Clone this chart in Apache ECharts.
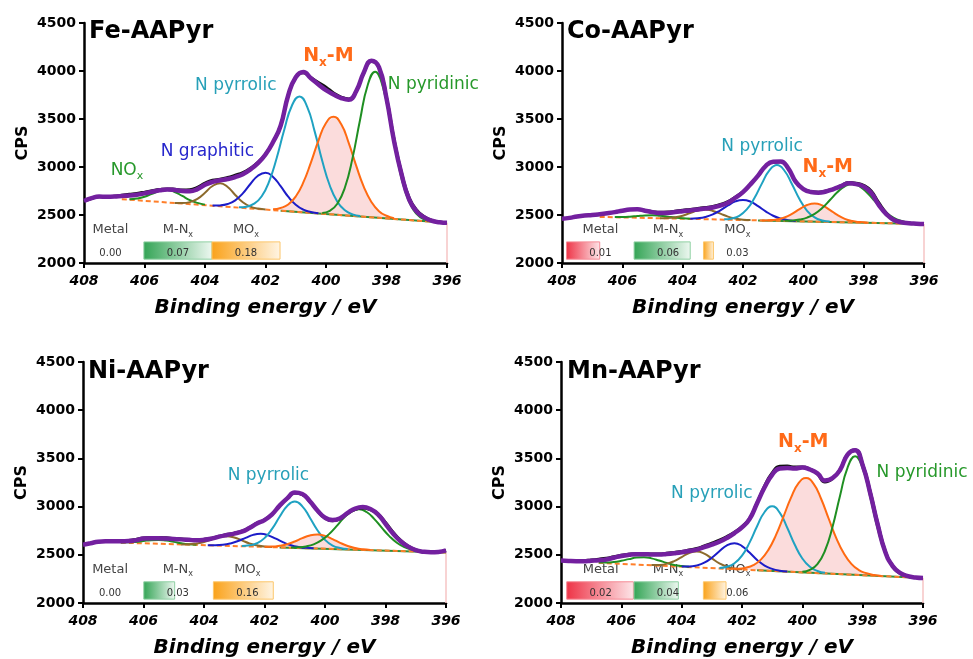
<!DOCTYPE html>
<html><head><meta charset="utf-8">
<script src="https://cdn.jsdelivr.net/npm/echarts@6/dist/echarts.min.js"></script>
<style>html,body{margin:0;padding:0;background:#fff}#c{width:973px;height:659px}</style>
</head><body><div id="c"></div>
<script>
// ---------- shared energy grids (eV) ----------
const energy = [408,407.75,407.5,407.25,407,406.75,406.5,406.25,406,405.75,405.5,405.25,405,404.75,404.5,404.25,404,403.75,403.5,403.25,403,402.75,402.5,402.25,402,401.75,401.5,401.25,401,400.75,400.5,400.25,400,399.75,399.5,399.25,399,398.75,398.5,398.25,398,397.75,397.5,397.25,397,396.75,396.5,396.25,396];
const energyHalf = [407.875,407.625,407.375,407.125,406.875,406.625,406.375,406.125,405.875,405.625,405.375,405.125,404.875,404.625,404.375,404.125,403.875,403.625,403.375,403.125,402.875,402.625,402.375,402.125,401.875,401.625,401.375,401.125,400.875,400.625,400.375,400.125,399.875,399.625,399.375,399.125,398.875,398.625,398.375,398.125,397.875,397.625,397.375,397.125,396.875,396.625,396.375,396.125];
const baseEnergy = [406.75, 401.5, 396];
const xTicks = [408, 406, 404, 402, 400, 398, 396];
const yTicks = [2000, 2500, 3000, 3500, 4000, 4500];
const cellNames = ['{a|Metal}', '{a|M-N}{s|x}', '{a|MO}{s|x}'];

// ---------- Fe-AAPyr ----------
const feEnvelope = [2646,2675,2692,2690,2692,2698,2703,2712,2725,2742,2757,2765,2760,2750,2748,2770,2815,2845,2862,2875,2895,2925,2975,3040,3130,3260,3430,3745,3935,3990,3925,3860,3800,3755,3718,3700,3790,3985,4108,4040,3715,3270,2920,2660,2535,2475,2440,2425,2418];
const feRaw = [2646,2672,2690,2688,2695,2705,2715,2725,2738,2752,2765,2772,2768,2760,2762,2788,2832,2862,2872,2890,2915,2942,2988,3048,3135,3262,3432,3745,3932,3982,3932,3880,3832,3772,3728,3708,3792,3982,4100,4040,3725,3285,2935,2680,2550,2482,2444,2426,2418];
const feBase = [2665, 2545, 2418];
const feNOxFrom = 406.5;        const feNOx = [2665,2672,2690,2721,2751,2761,2740,2698,2655,2626,2608];
const feOtherFrom = 405.0;      const feOther = [2626,2624,2634,2668,2732,2802,2831,2791,2709,2633,2588,2567,2557];
const feGraphiticFrom = 403.75; const feGraphitic = [2598,2600,2614,2653,2725,2823,2909,2941,2897,2800,2691,2607,2556,2531,2518];
const fePyrrolicFrom = 402.875; const fePyrrolic = [2581,2587,2618,2696,2853,3099,3394,3641,3735,3629,3371,3065,2807,2638,2549,2507,2489];
const feNxMFrom = 401.75;       const feNxM = [2559,2573,2609,2693,2839,3046,3275,3458,3524,3447,3252,3011,2793,2636,2540,2492,2467];
const fePyridinicFrom = 400.125; const fePyridinic = [2522,2543,2617,2786,3090,3490,3849,3993,3838,3467,3055,2740,2560,2474,2441];
const feCellLeft = [408.25, 406.02, 403.77];
const feCellFill = [0, 2.25, 2.25];
const feRatio = ['0.00', '0.07', '0.18'];
const feNoteText = ['{a|N pyrrolic}', '{a|N graphitic}', '{a|NO}{s|x}', '{a|N}{s|x}{a|-M}', '{a|N pyridinic}'];
const feNoteE = [402.98, 403.92, 406.58, 399.92, 396.45];
const feNoteCps = [3833, 3146, 2950, 4140, 3844];
const feNoteKind = ['pyrrolic', 'graphitic', 'pyridinic', 'nxm', 'pyridinic'];

// ---------- Co-AAPyr ----------
const coEnvelope = [2462,2470,2485,2495,2500,2508,2518,2530,2545,2557,2560,2545,2530,2520,2522,2532,2540,2548,2558,2568,2578,2598,2628,2680,2738,2820,2910,3010,3055,3058,2985,2845,2770,2740,2733,2745,2770,2800,2830,2822,2795,2730,2605,2510,2448,2425,2415,2410,2406];
const coRaw = [2462,2470,2485,2495,2500,2508,2518,2530,2545,2557,2560,2548,2535,2528,2530,2540,2550,2558,2568,2578,2590,2610,2640,2688,2742,2820,2910,3008,3052,3055,2985,2850,2772,2745,2738,2750,2772,2805,2838,2832,2810,2750,2628,2522,2452,2426,2415,2410,2406];
const coBase = [2480, 2444, 2406];
const coNOxFrom = 406.25;       const coNOx = [2478,2479,2483,2490,2496,2498,2492,2483,2473,2465,2460];
const coOtherFrom = 404.75;     const coOther = [2467,2469,2477,2493,2521,2546,2556,2542,2514,2483,2463,2451,2447];
const coGraphiticFrom = 403.75; const coGraphitic = [2462,2467,2480,2506,2549,2599,2642,2657,2639,2592,2538,2492,2463,2446,2438];
const coPyrrolicFrom = 402.625; const coPyrrolic = [2455,2464,2492,2558,2674,2827,2964,3020,2961,2820,2664,2544,2475,2443,2431];
const coNxMFrom = 401.375;      const coNxM = [2444,2446,2454,2474,2511,2561,2604,2621,2600,2554,2501,2460,2437,2426,2420];
const coPyridinicFrom = 400.625; const coPyridinic = [2440,2443,2453,2473,2512,2573,2653,2736,2799,2822,2796,2729,2642,2560,2495,2452,2428,2416,2409];
const coCellLeft = [407.85, 405.61, 403.31];
const coCellFill = [1.1, 1.86, 0.33];
const coRatio = ['0.01', '0.06', '0.03'];
const coNoteText = ['{a|N pyrrolic}', '{a|N}{s|x}{a|-M}'];
const coNoteE = [401.37, 399.19];
const coNoteCps = [3198, 2980];
const coNoteKind = ['pyrrolic', 'nxm'];

// ---------- Ni-AAPyr ----------
const niEnvelope = [2605,2620,2636,2640,2640,2640,2642,2652,2668,2672,2672,2668,2664,2660,2655,2650,2655,2668,2688,2705,2720,2740,2778,2825,2860,2920,3010,3085,3145,3130,3055,2960,2885,2860,2880,2935,2980,2995,2975,2920,2820,2720,2640,2585,2548,2532,2526,2530,2546];
const niRaw = [2605,2620,2636,2640,2640,2642,2648,2660,2675,2680,2680,2676,2670,2665,2660,2655,2660,2672,2692,2710,2725,2745,2782,2828,2862,2922,3008,3082,3140,3125,3050,2958,2878,2852,2872,2930,2972,2985,2968,2925,2835,2735,2650,2590,2550,2532,2526,2530,2546];
const niBase = [2626, 2577, 2525];
const niNOxFrom = 406.75;       const niNOx = [2628,2629,2634,2643,2652,2654,2647,2634,2620,2610,2605];
const niOtherFrom = 404.75;     const niOther = [2608,2609,2617,2632,2659,2684,2693,2679,2650,2618,2598,2585,2580];
const niGraphiticFrom = 403.875; const niGraphitic = [2600,2600,2604,2618,2643,2676,2707,2718,2702,2667,2629,2599,2581,2572,2567];
const niPyrrolicFrom = 402.75;  const niPyrrolic = [2592,2598,2620,2673,2769,2895,3007,3052,3003,2885,2755,2655,2596,2570,2559];
const niNxMFrom = 402.0;        const niNxM = [2583,2585,2594,2610,2638,2673,2700,2710,2696,2663,2624,2592,2570,2557,2551];
const niPyridinicFrom = 401.125; const niPyridinic = [2576,2578,2587,2608,2649,2712,2795,2883,2948,2972,2944,2873,2781,2694,2625,2580,2554,2540,2534];
const niCellLeft = [408.23, 405.99, 403.69];
const niCellFill = [0, 1.02, 1.98];
const niRatio = ['0.00', '0.03', '0.16'];
const niNoteText = ['{a|N pyrrolic}'];
const niNoteE = [401.87];
const niNoteCps = [3310];
const niNoteKind = ['pyrrolic'];

// ---------- Mn-AAPyr ----------
const mnEnvelope = [2440,2436,2433,2432,2438,2443,2452,2470,2488,2500,2507,2507,2503,2502,2508,2516,2526,2540,2553,2580,2605,2635,2675,2725,2785,2870,3035,3200,3330,3395,3400,3395,3405,3385,3345,3270,3295,3380,3540,3585,3430,3140,2810,2530,2380,2310,2278,2265,2259];
const mnRaw = [2440,2438,2436,2438,2446,2455,2465,2480,2495,2505,2510,2510,2508,2508,2515,2525,2535,2550,2565,2592,2620,2652,2690,2735,2792,2875,3040,3215,3350,3418,3420,3410,3412,3390,3340,3255,3290,3385,3545,3588,3440,3155,2825,2540,2385,2312,2278,2265,2259];
const mnBase = [2417, 2340, 2259];
const mnNOxFrom = 406.75;       const mnNOx = [2419,2419,2425,2438,2455,2471,2475,2463,2441,2416,2395,2383,2375];
const mnOtherFrom = 405.0;      const mnOther = [2393,2395,2406,2434,2477,2519,2534,2512,2462,2412,2377,2358,2349];
const mnGraphiticFrom = 404.0;  const mnGraphitic = [2379,2379,2390,2418,2469,2537,2599,2621,2591,2523,2447,2388,2354,2335,2327];
const mnPyrrolicFrom = 402.75;  const mnPyrrolic = [2364,2376,2412,2491,2626,2796,2944,3003,2937,2781,2604,2462,2375,2332,2313];
const mnNxMFrom = 402.375;      const mnNxM = [2355,2356,2366,2393,2450,2551,2704,2896,3093,3243,3296,3235,3079,2874,2674,2515,2406,2341,2308,2290,2281];
const mnPyridinicFrom = 400.0;  const mnPyridinic = [2325,2344,2404,2542,2789,3113,3405,3522,3397,3099,2767,2512,2367,2300,2273];
const mnCellLeft = [407.81, 405.58, 403.28];
const mnCellFill = [2.21, 1.47, 0.75];
const mnRatio = ['0.02', '0.04', '0.06'];
const mnNoteText = ['{a|N pyrrolic}', '{a|N}{s|x}{a|-M}', '{a|N pyridinic}'];
const mnNoteE = [403.0, 399.97, 396.03];
const mnNoteCps = [3123, 3655, 3341];
const mnNoteKind = ['pyrrolic', 'nxm', 'pyridinic'];

// ---------- styling ----------
const FONT = 'DejaVu Sans';
const COL = {env:'#73209f', raw:'#111111', nox:'#1f8f22', other:'#8c6a2c', graphitic:'#1c1cc8', pyrrolic:'#1fa2c2', nxm:'#ff6a12', pyridinic:'#1f8f22', fill:'rgba(244,150,150,0.33)', base:'#ff7f2a', baseGreen:'#2f8f3a', edge:'#f6c4c4'};
const TXT = {pyrrolic:'#27a0b8', graphitic:'#2626cc', pyridinic:'#26982a', nxm:'#ff6a18'};
const CELL = [['#ee3346','#fde6e9','#f58a96'], ['#33a455','#eef8f1','#8fd0a3'], ['#faa21a','#fff5e4','#fcc66a']];

function onGrid(grid, from, values) {
  const i0 = grid.indexOf(from);
  return values.map((v, k) => [grid[i0 + k], v]);
}
function richFor(size, bold, col) {
  const w = bold ? 'bold' : 'normal';
  return {
    a: {fontFamily: FONT, fontSize: size, fontWeight: w, fill: col, color: col, lineHeight: Math.round(size * 1.18), verticalAlign: 'top'},
    s: {fontFamily: FONT, fontSize: Math.round(size * 0.64), fontWeight: w, fill: col, color: col, lineHeight: Math.round(size * 0.75), verticalAlign: 'bottom', padding: [Math.round(size * 0.58), 0, 0, 0]}
  };
}

const panels = [
  {title:'Fe-AAPyr', grid:{left:84, top:23, width:363, height:240}, tpos:{left:89, top:20},
   env:feEnvelope, raw:feRaw, base:feBase,
   comps:[[energy, feNOxFrom, feNOx, COL.nox], [energy, feOtherFrom, feOther, COL.other], [energy, feGraphiticFrom, feGraphitic, COL.graphitic], [energyHalf, fePyrrolicFrom, fePyrrolic, COL.pyrrolic], [energy, feNxMFrom, feNxM, COL.nxm], [energyHalf, fePyridinicFrom, fePyridinic, COL.pyridinic]],
   nxm:[energy, feNxMFrom, feNxM], cellLeft:feCellLeft, cellFill:feCellFill, ratio:feRatio,
   noteText:feNoteText, noteE:feNoteE, noteCps:feNoteCps, noteKind:feNoteKind},
  {title:'Co-AAPyr', grid:{left:562, top:23, width:362, height:240}, tpos:{left:567, top:20},
   env:coEnvelope, raw:coRaw, base:coBase,
   comps:[[energy, coNOxFrom, coNOx, COL.nox], [energy, coOtherFrom, coOther, COL.other], [energy, coGraphiticFrom, coGraphitic, COL.graphitic], [energyHalf, coPyrrolicFrom, coPyrrolic, COL.pyrrolic], [energyHalf, coNxMFrom, coNxM, COL.nxm], [energyHalf, coPyridinicFrom, coPyridinic, COL.pyridinic]],
   nxm:[energyHalf, coNxMFrom, coNxM], cellLeft:coCellLeft, cellFill:coCellFill, ratio:coRatio,
   noteText:coNoteText, noteE:coNoteE, noteCps:coNoteCps, noteKind:coNoteKind},
  {title:'Ni-AAPyr', grid:{left:83, top:362, width:363, height:241}, tpos:{left:88, top:360},
   env:niEnvelope, raw:niRaw, base:niBase,
   comps:[[energy, niNOxFrom, niNOx, COL.nox], [energy, niOtherFrom, niOther, COL.other], [energyHalf, niGraphiticFrom, niGraphitic, COL.graphitic], [energy, niPyrrolicFrom, niPyrrolic, COL.pyrrolic], [energy, niNxMFrom, niNxM, COL.nxm], [energyHalf, niPyridinicFrom, niPyridinic, COL.pyridinic]],
   nxm:[energy, niNxMFrom, niNxM], cellLeft:niCellLeft, cellFill:niCellFill, ratio:niRatio,
   noteText:niNoteText, noteE:niNoteE, noteCps:niNoteCps, noteKind:niNoteKind},
  {title:'Mn-AAPyr', grid:{left:561, top:362, width:362, height:241}, tpos:{left:567, top:360},
   env:mnEnvelope, raw:mnRaw, base:mnBase,
   comps:[[energy, mnNOxFrom, mnNOx, COL.nox], [energy, mnOtherFrom, mnOther, COL.other], [energy, mnGraphiticFrom, mnGraphitic, COL.graphitic], [energy, mnPyrrolicFrom, mnPyrrolic, COL.pyrrolic], [energyHalf, mnNxMFrom, mnNxM, COL.nxm], [energy, mnPyridinicFrom, mnPyridinic, COL.pyridinic]],
   nxm:[energyHalf, mnNxMFrom, mnNxM], cellLeft:mnCellLeft, cellFill:mnCellFill, ratio:mnRatio,
   noteText:mnNoteText, noteE:mnNoteE, noteCps:mnNoteCps, noteKind:mnNoteKind}
];

const axisLine = {show:true, onZero:false, lineStyle:{color:'#000', width:2.5}};
const axisTick = {show:true, length:5, inside:false, lineStyle:{color:'#000', width:2}};

const option = {animation:false, backgroundColor:'#fff', title:[], grid:[], xAxis:[], yAxis:[], series:[]};

panels.forEach((P, p) => {
  option.title.push({text:P.title, left:P.tpos.left, top:P.tpos.top, padding:0,
    textStyle:{fontFamily:FONT, fontSize:24, fontWeight:'bold', color:'#000'}});
  option.grid.push(Object.assign({containLabel:false}, P.grid));
  option.xAxis.push({gridIndex:p, type:'value', min:xTicks[xTicks.length-1], max:xTicks[0], interval:2, inverse:true,
    name:'Binding energy / eV', nameLocation:'middle', nameGap:35,
    nameTextStyle:{fontFamily:FONT, fontSize:20, fontWeight:'bold', fontStyle:'italic', color:'#000'},
    axisLine, axisTick, splitLine:{show:false},
    axisLabel:{fontFamily:FONT, fontSize:14, fontWeight:'bold', fontStyle:'italic', color:'#000', margin:11, formatter:v => String(v)}});
  option.yAxis.push({gridIndex:p, type:'value', min:yTicks[0], max:yTicks[yTicks.length-1], interval:500,
    name:'CPS', nameLocation:'middle', nameGap:53, nameRotate:90,
    nameTextStyle:{fontFamily:FONT, fontSize:16, fontWeight:'bold', color:'#000'},
    axisLine, axisTick, splitLine:{show:false},
    axisLabel:{fontFamily:FONT, fontSize:14, fontWeight:'bold', color:'#000', margin:8, formatter:v => String(v)}});

  // pink fill under the Nx-M component (closed along the baseline) and the faint right edge
  const nxmPts = onGrid(P.nxm[0], P.nxm[1], P.nxm[2]);
  const edgeTop = [baseEnergy[2], P.base[2]], edgeBottom = [baseEnergy[2], yTicks[0]];
  option.series.push({type:'custom', xAxisIndex:p, yAxisIndex:p, silent:true, clip:false,
    data:[nxmPts[0]],
    renderItem:(params, api) => {
      const a = api.coord(edgeTop), b = api.coord(edgeBottom);
      return {type:'group', children:[
        {type:'polygon', shape:{points:nxmPts.map(d => api.coord(d))}, style:{fill:COL.fill}},
        {type:'line', shape:{x1:a[0], y1:a[1], x2:b[0], y2:b[1]}, style:{stroke:COL.edge, lineWidth:1.5}}
      ]};
    }});

  // baseline
  const basePts = baseEnergy.map((e, i) => [e, P.base[i]]);
  option.series.push({type:'line', xAxisIndex:p, yAxisIndex:p, data:basePts.slice(1), showSymbol:false, silent:true,
    lineStyle:{color:COL.baseGreen, width:2}});
  option.series.push({type:'line', xAxisIndex:p, yAxisIndex:p, data:basePts, showSymbol:false, silent:true,
    lineStyle:{color:COL.base, width:2, type:[5, 3]}});

  // fitted components
  P.comps.forEach(c => {
    option.series.push({type:'line', xAxisIndex:p, yAxisIndex:p, data:onGrid(c[0], c[1], c[2]), showSymbol:false, silent:true,
      smooth:0.5, lineStyle:{color:c[3], width:2}});
  });

  // raw data and envelope
  option.series.push({type:'line', xAxisIndex:p, yAxisIndex:p, data:energy.map((e, i) => [e, P.raw[i]]), showSymbol:false, silent:true,
    smooth:0.5, lineStyle:{color:COL.raw, width:3}});
  option.series.push({type:'line', xAxisIndex:p, yAxisIndex:p, data:energy.map((e, i) => [e, P.env[i]]), showSymbol:false, silent:true,
    smooth:0.5, lineStyle:{color:COL.env, width:4.5}});

  // small ratio table
  option.series.push({type:'custom', xAxisIndex:p, yAxisIndex:p, silent:true, clip:false,
    data:P.cellLeft.map((l, i) => [l, P.cellFill[i], i]),
    renderItem:(params, api) => {
      const i = params.dataIndex;
      const left = api.value(0), fill = api.value(1), mid = left - 1.125;
      const kids = [];
      if (fill > 0) {
        const a = api.coord([left, 2220]), b = api.coord([left - fill, 2040]);
        kids.push({type:'rect', shape:{x:a[0], y:a[1], width:b[0] - a[0], height:b[1] - a[1]},
          style:{fill:new echarts.graphic.LinearGradient(0, 0, 1, 0, [{offset:0, color:CELL[i][0]}, {offset:1, color:CELL[i][1]}]),
                 stroke:CELL[i][2], lineWidth:1}});
      }
      const h = api.coord([mid, 2333]), v = api.coord([mid, 2100]);
      kids.push({type:'text', x:h[0], y:h[1], style:{text:cellNames[i], align:'center', verticalAlign:'middle', rich:richFor(13, false, '#444444')}});
      kids.push({type:'text', x:v[0], y:v[1], style:{text:P.ratio[i], align:'center', verticalAlign:'middle', fill:'#333333', fontFamily:FONT, fontSize:10}});
      return {type:'group', children:kids};
    }});

  // annotations
  option.series.push({type:'custom', xAxisIndex:p, yAxisIndex:p, silent:true, clip:false,
    data:P.noteE.map((e, i) => [e, P.noteCps[i]]),
    renderItem:(params, api) => {
      const i = params.dataIndex, kind = P.noteKind[i];
      const pt = api.coord([api.value(0), api.value(1)]);
      const bold = kind === 'nxm';
      return {type:'text', x:pt[0], y:pt[1], style:{text:P.noteText[i], align:'center', verticalAlign:'middle', rich:richFor(bold ? 19 : 17, bold, TXT[kind])}};
    }});
});

const chart = echarts.init(document.getElementById('c'), null, {renderer:'canvas'});
chart.setOption(option);
</script>
</body></html>
